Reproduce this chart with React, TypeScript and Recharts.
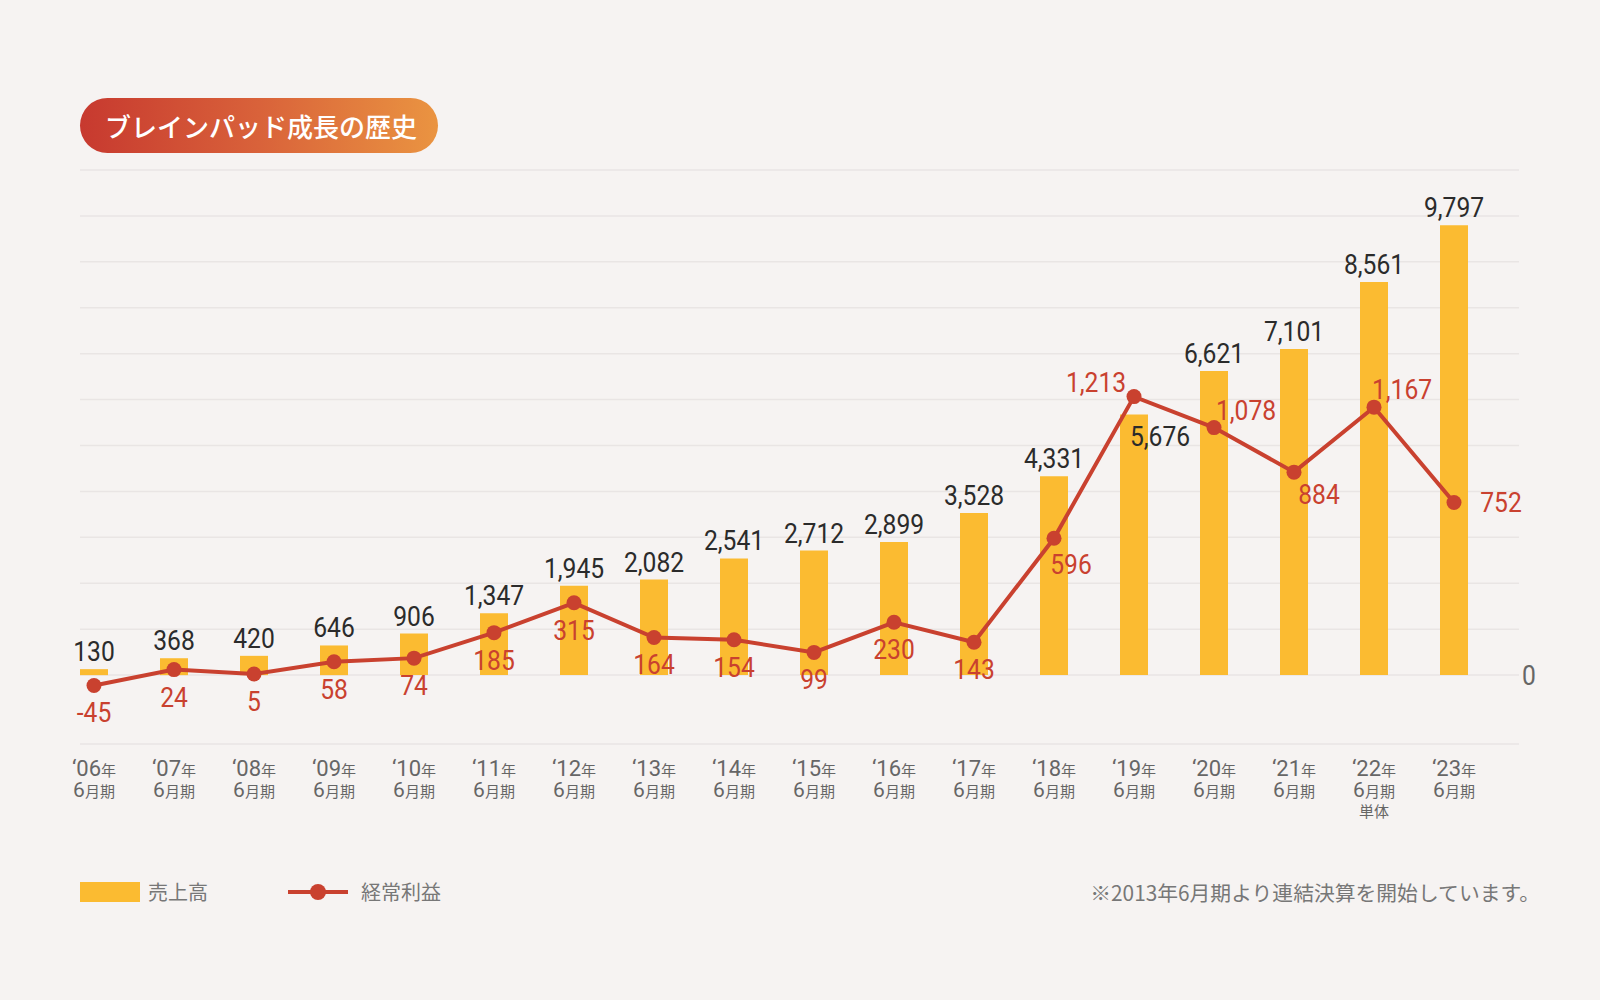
import React from 'react';
import {
  ComposedChart,
  Bar,
  Line,
  XAxis,
  YAxis,
  CartesianGrid,
  LabelList,
} from 'recharts';

const YEARS = ['06', '07', '08', '09', '10', '11', '12', '13', '14', '15', '16', '17', '18', '19', '20', '21', '22', '23'];
const NOTES = ['', '', '', '', '', '', '', '', '', '', '', '', '', '', '', '', '単体', ''];
const SALES = [130, 368, 420, 646, 906, 1347, 1945, 2082, 2541, 2712, 2899, 3528, 4331, 5676, 6621, 7101, 8561, 9797];
const PROFIT = [-45, 24, 5, 58, 74, 185, 315, 164, 154, 99, 230, 143, 596, 1213, 1078, 884, 1167, 752];
const SALES_TICKS = [-1500, 0, 1000, 2000, 3000, 4000, 5000, 6000, 7000, 8000, 9000, 10000, 11000];

const BAR_COLOR = '#fbbb31';
const LINE_COLOR = '#c9412f';
const BG = '#f6f3f2';
const NUM_FONT = "'Roboto', 'DejaVu Sans', sans-serif";
const JP_FONT = "'Noto Sans CJK JP', 'Noto Sans', sans-serif";

// label nudges (dx, dy from default spot) where labels were moved off the line
const SALES_NUDGE: Record<number, [number, number]> = {
  13: [26, 40],
};
const PROFIT_NUDGE: Record<number, [number, number]> = {
  12: [17, -1],
  13: [-38, -42],
  14: [32, -45],
  15: [25, -5],
  16: [28, -45],
  17: [47, -27],
};

const data = YEARS.map((y, i) => ({ idx: i, year: y, sales: SALES[i], profit: PROFIT[i] }));

const fmt = (v: number) => v.toLocaleString('en-US');

// DIN-ish narrow numerals: squeeze Roboto horizontally
function NumText({ x, y, fill, anchor = 'middle', children }: any) {
  return (
    <text
      transform={`translate(${x} ${y}) scale(0.88 1)`}
      textAnchor={anchor}
      fontFamily={NUM_FONT}
      fontSize={28}
      fill={fill}
    >
      {children}
    </text>
  );
}

function YearTick({ x, y, payload }: any) {
  const i = payload.value as number;
  return (
    <g fill="#666">
      <text x={x} y={y + 32} textAnchor="middle">
        <tspan fontFamily={NUM_FONT} fontSize={22}>{'\u2018' + YEARS[i]}</tspan>
        <tspan fontFamily={JP_FONT} fontSize={15}>年</tspan>
      </text>
      <text x={x} y={y + 53} textAnchor="middle">
        <tspan fontFamily={NUM_FONT} fontSize={21}>6</tspan>
        <tspan fontFamily={JP_FONT} fontSize={15}>月期</tspan>
      </text>
      {NOTES[i] && (
        <text x={x} y={y + 73} textAnchor="middle" fontFamily={JP_FONT} fontSize={15}>
          {NOTES[i]}
        </text>
      )}
    </g>
  );
}

function ZeroTick({ x, y, payload }: any) {
  if (payload.value !== 0) return null;
  return (
    <NumText x={x} y={y + 10} anchor="start" fill="#666">
      0
    </NumText>
  );
}

function SalesLabel(props: any) {
  const { x, y, width, value, index } = props;
  const [dx, dy] = SALES_NUDGE[index] || [0, 0];
  return (
    <NumText x={x + width / 2 + dx} y={y - 8 + dy} fill="#2b2b2b">
      {fmt(value)}
    </NumText>
  );
}

function ProfitLabel(props: any) {
  const { x, y, value, index } = props;
  const [dx, dy] = PROFIT_NUDGE[index] || [0, 0];
  return (
    <NumText x={x + dx} y={y + 37 + dy} fill={LINE_COLOR}>
      {fmt(value)}
    </NumText>
  );
}

const jpText = {
  position: 'absolute' as const,
  top: 880,
  fontFamily: JP_FONT,
  fontSize: 20,
  lineHeight: '24px',
  color: '#777',
  whiteSpace: 'nowrap' as const,
};

export default function App() {
  return (
    <div
      style={{
        position: 'absolute',
        left: 0,
        top: 0,
        width: 1600,
        height: 1000,
        background: BG,
        overflow: 'hidden',
      }}
    >
      <div
        style={{
          position: 'absolute',
          left: 80,
          top: 98,
          width: 358,
          height: 55,
          borderRadius: 28,
          background: 'linear-gradient(90deg, #c7392f 0%, #d9623a 50%, #ea9441 100%)',
          color: '#fff',
          fontFamily: JP_FONT,
          fontSize: 26,
          fontWeight: 500,
          lineHeight: '55px',
          paddingLeft: 25,
          boxSizing: 'border-box',
          whiteSpace: 'nowrap',
        }}
      >
        ブレインパッド成長の歴史
      </div>

      <div style={{ position: 'absolute', left: 0, top: 0 }}>
        <ComposedChart
          width={1600}
          height={1000}
          data={data}
          margin={{ top: 170, right: 21, bottom: 176, left: 80 }}
        >
          <CartesianGrid yAxisId="sales" vertical={false} stroke="#e9e5e4" strokeWidth={1.5} />
          <XAxis
            dataKey="idx"
            type="number"
            domain={[-0.175, 17.8125]}
            ticks={YEARS.map((_, i) => i)}
            interval={0}
            allowDataOverflow
            height={80}
            axisLine={false}
            tickLine={false}
            tickSize={0}
            tickMargin={0}
            tick={<YearTick />}
          />
          <YAxis
            yAxisId="sales"
            orientation="right"
            width={60}
            domain={[-1500, 11000]}
            ticks={SALES_TICKS}
            interval={0}
            axisLine={false}
            tickLine={false}
            tickSize={0}
            tickMargin={3}
            tick={<ZeroTick />}
          />
          <YAxis yAxisId="profit" orientation="left" hide domain={[-300, 2200]} />
          <Bar yAxisId="sales" dataKey="sales" fill={BAR_COLOR} barSize={28} isAnimationActive={false}>
            <LabelList dataKey="sales" content={<SalesLabel />} />
          </Bar>
          <Line
            yAxisId="profit"
            dataKey="profit"
            type="linear"
            stroke={LINE_COLOR}
            strokeWidth={4}
            dot={{ r: 7.5, fill: LINE_COLOR, stroke: 'none' }}
            activeDot={false}
            isAnimationActive={false}
          >
            <LabelList dataKey="profit" content={<ProfitLabel />} />
          </Line>
        </ComposedChart>
      </div>

      {/* legend */}
      <div style={{ position: 'absolute', left: 80, top: 882, width: 60, height: 20, background: BAR_COLOR }} />
      <div style={{ ...jpText, left: 148 }}>売上高</div>
      <svg style={{ position: 'absolute', left: 288, top: 882 }} width={60} height={20}>
        <line x1={0} y1={10} x2={60} y2={10} stroke={LINE_COLOR} strokeWidth={4} />
        <circle cx={30} cy={10} r={8} fill={LINE_COLOR} />
      </svg>
      <div style={{ ...jpText, left: 361 }}>経常利益</div>
      <div style={{ ...jpText, right: 60, fontSize: 20.8 }}>※2013年6月期より連結決算を開始しています。</div>
    </div>
  );
}
